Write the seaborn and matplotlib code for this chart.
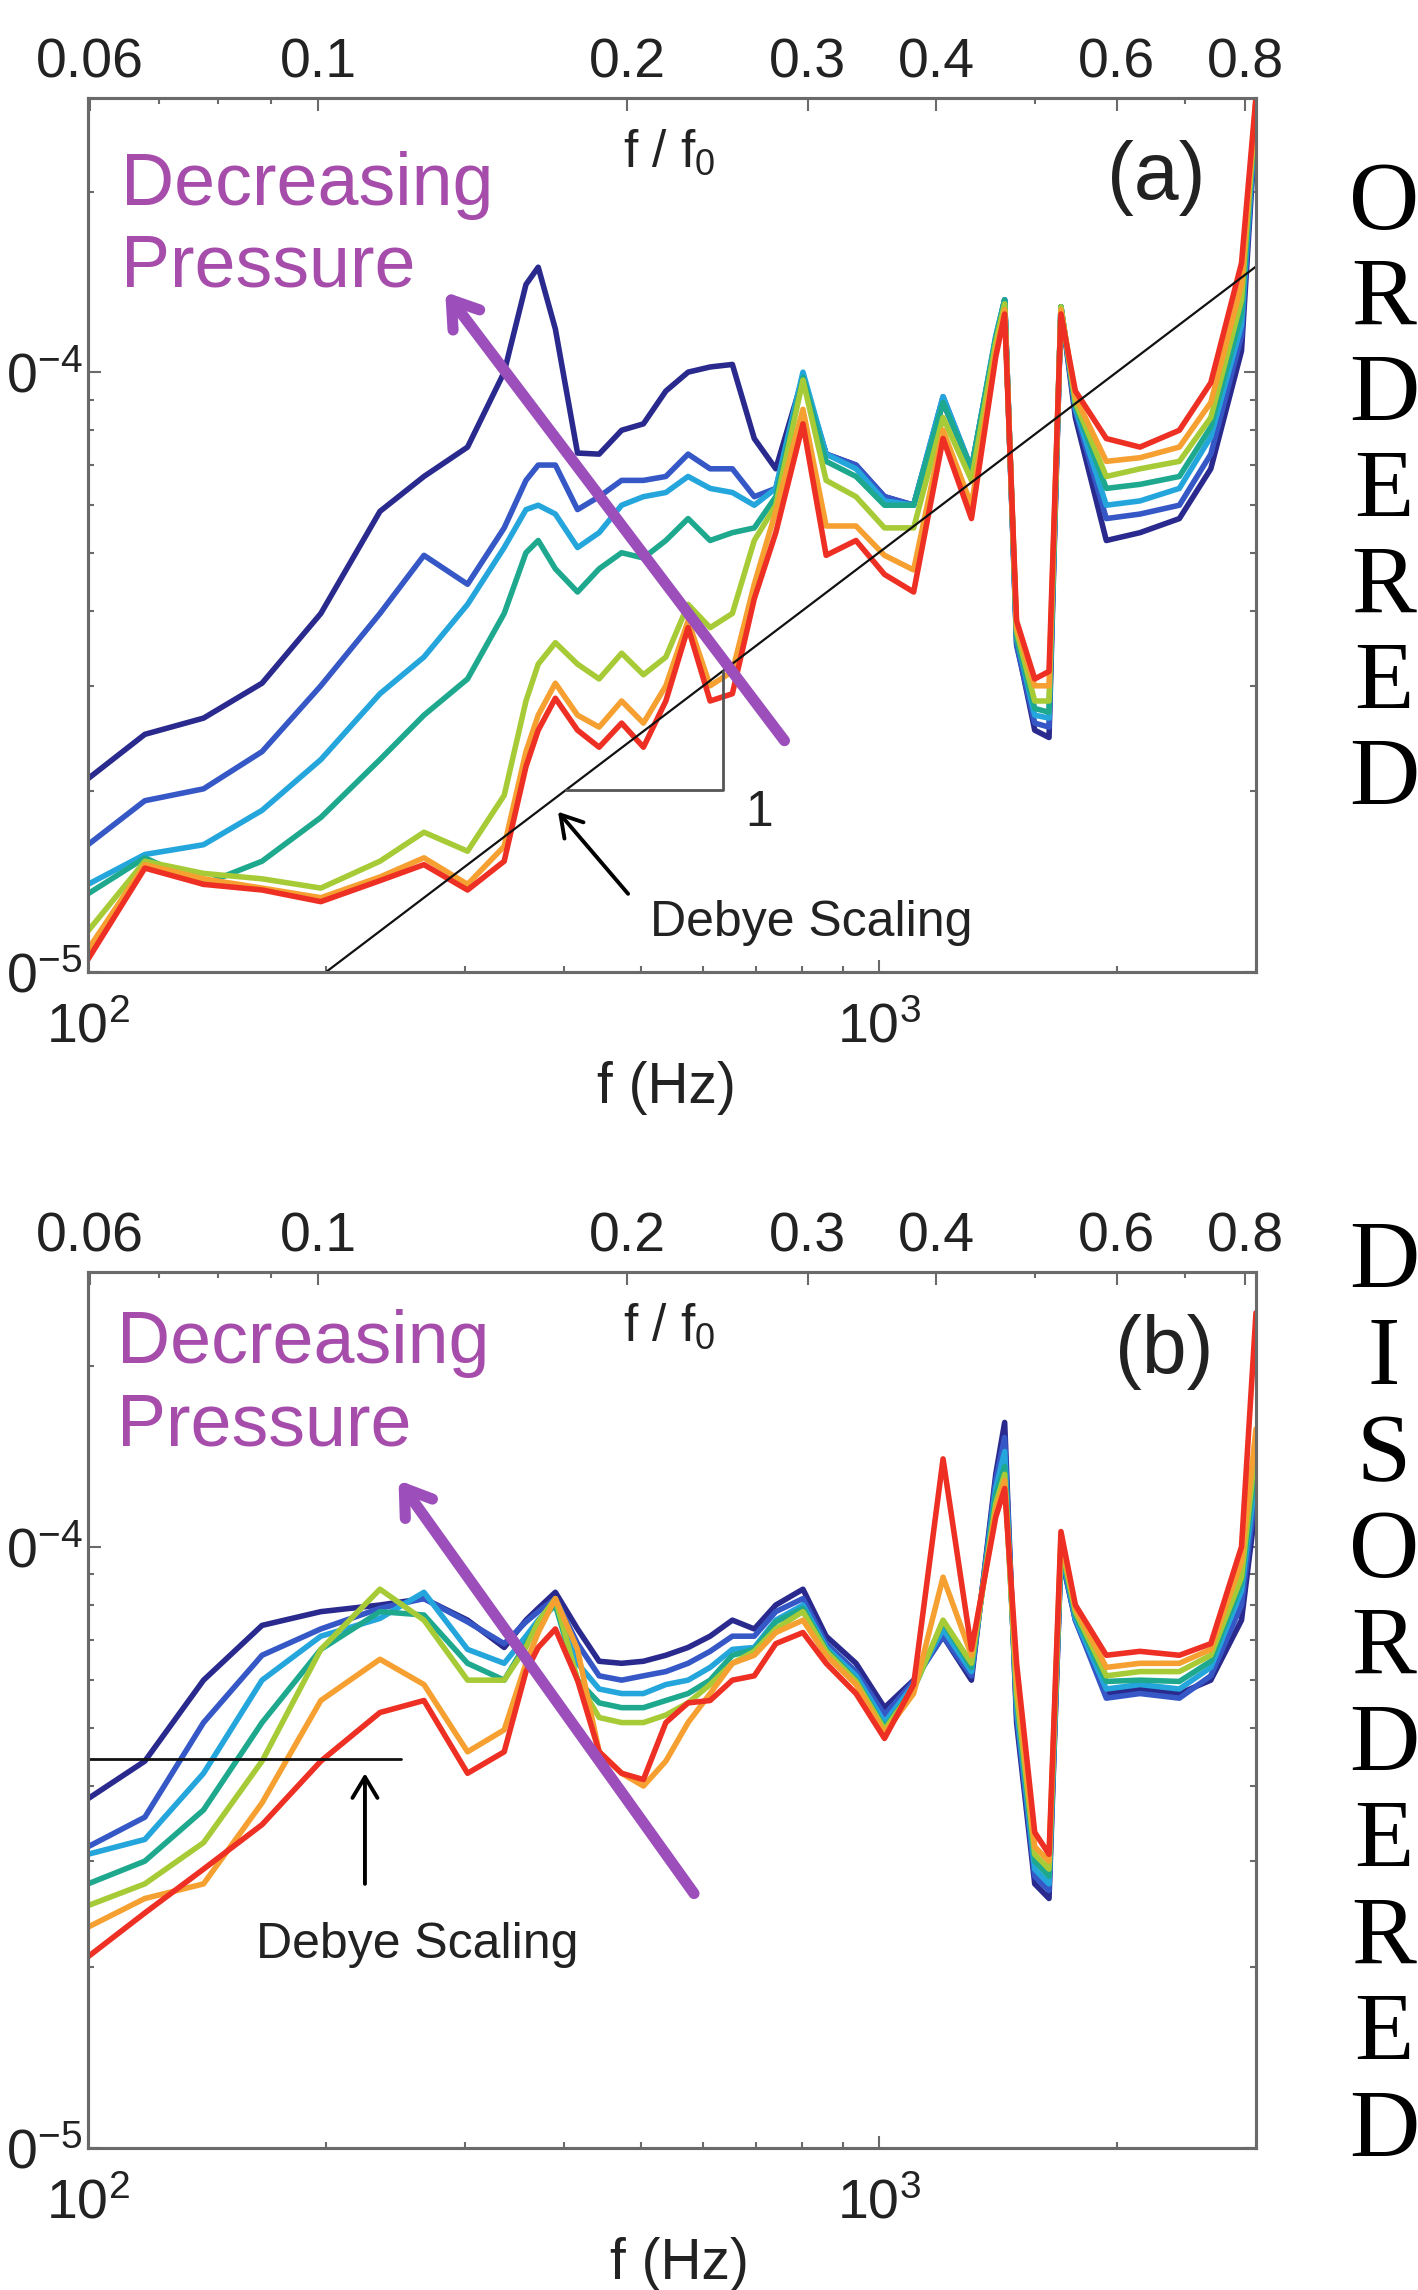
import numpy as np
import pandas as pd
import matplotlib
matplotlib.use("Agg")
import matplotlib.pyplot as plt
from matplotlib.ticker import FixedLocator, NullFormatter
import seaborn as sns

# ---------------- data (spectra in units of 1e-5) ----------------
freq_hz = [100, 118, 140, 166, 197, 234, 266, 302, 336, 358, 371, 390, 416, 443,
           473, 504, 538, 574, 612, 653, 696, 741, 802, 858, 936, 1017, 1107, 1206,
           1310, 1406, 1443, 1494, 1575, 1642, 1700, 1773, 1940, 2140, 2400, 2630,
           2876, 3000]

curve_names = ["navy", "blue", "lightblue", "teal", "yellowgreen", "orange", "red"]
curve_colors = ["#2a2a8e", "#3558c6", "#24a6dc", "#1ea98f", "#a7cb36", "#f5a031", "#ee2f23"]

ordered_navy = [2.10, 2.49, 2.65, 3.03, 3.96, 5.86, 6.7, 7.5, 10.0, 14.0, 14.96, 11.8, 7.33, 7.3,
                8.0, 8.2, 9.3, 10.0, 10.2, 10.3, 7.75, 6.9, 9.8, 7.3, 7.0, 6.2, 6.0, 8.9,
                6.9, 11.2, 13.2, 3.54, 2.53, 2.46, 12.85, 8.4, 5.24, 5.4, 5.7, 6.9, 10.85, 26.6]
ordered_blue = [1.63, 1.93, 2.02, 2.33, 3.0, 3.96, 4.95, 4.43, 5.5, 6.6, 7.0, 7.0, 5.9, 6.2,
                6.6, 6.6, 6.7, 7.3, 6.9, 6.9, 6.2, 6.4, 9.8, 7.3, 7.0, 6.2, 6.0, 9.1,
                6.9, 11.4, 13.2, 3.5, 2.60, 2.56, 12.85, 8.6, 5.7, 5.8, 6.0, 7.3, 11.5, 26.9]
ordered_lightblue = [1.40, 1.57, 1.63, 1.86, 2.26, 2.91, 3.35, 4.1, 5.1, 5.9, 6.0, 5.8, 5.1, 5.4,
                     6.0, 6.2, 6.3, 6.7, 6.4, 6.3, 6.0, 6.4, 10.0, 7.3, 6.9, 6.1, 6.0, 9.1,
                     6.9, 11.5, 13.2, 3.6, 2.68, 2.65, 12.85, 8.7, 6.0, 6.1, 6.4, 7.8, 12.0, 27.4]
ordered_teal = [1.35, 1.55, 1.40, 1.53, 1.81, 2.26, 2.68, 3.08, 3.96, 5.0, 5.24, 4.7, 4.3, 4.7,
                5.0, 4.9, 5.24, 5.7, 5.24, 5.4, 5.5, 6.2, 9.8, 7.1, 6.7, 6.0, 6.0, 8.9,
                6.9, 11.4, 13.2, 3.6, 2.75, 2.71, 12.85, 8.8, 6.4, 6.5, 6.7, 8.1, 12.5, 27.9]
ordered_yellowgreen = [1.17, 1.53, 1.46, 1.43, 1.38, 1.53, 1.71, 1.59, 1.97, 2.83, 3.26, 3.54, 3.26, 3.08,
                       3.4, 3.13, 3.35, 4.1, 3.75, 3.96, 5.24, 6.0, 9.7, 6.6, 6.2, 5.5, 5.5, 8.4,
                       6.6, 11.2, 13.0, 3.7, 2.83, 2.83, 12.85, 8.9, 6.7, 6.9, 7.1, 8.4, 13.2, 28.2]
ordered_orange = [1.09, 1.51, 1.43, 1.38, 1.33, 1.44, 1.55, 1.40, 1.62, 2.33, 2.68, 3.03, 2.68, 2.56,
                  2.83, 2.60, 3.0, 3.85, 3.0, 3.17, 4.43, 5.86, 8.67, 5.54, 5.54, 4.95, 4.68, 8.0,
                  6.0, 10.85, 12.7, 3.75, 3.0, 3.0, 12.7, 9.1, 7.1, 7.2, 7.5, 8.9, 14.0, 28.5]
ordered_red = [1.05, 1.49, 1.40, 1.37, 1.31, 1.42, 1.51, 1.37, 1.53, 2.20, 2.53, 2.86, 2.53, 2.37,
               2.60, 2.37, 2.83, 3.75, 2.83, 2.91, 4.19, 5.4, 8.2, 4.95, 5.24, 4.6, 4.3, 7.75,
               5.7, 10.6, 12.5, 3.85, 3.08, 3.17, 12.5, 9.3, 7.75, 7.5, 8.0, 9.6, 15.2, 28.8]

disordered_navy = [3.81, 4.4, 6.0, 7.4, 7.8, 8.0, 8.2, 7.55, 6.8, 7.55, 7.9, 8.4, 7.3, 6.45,
                   6.4, 6.45, 6.6, 6.8, 7.1, 7.55, 7.3, 8.0, 8.5, 7.1, 6.4, 5.4, 6.0, 7.1,
                   6.0, 13.2, 16.1, 5.1, 2.75, 2.60, 9.7, 7.55, 5.7, 5.8, 5.7, 6.0, 7.55, 11.8]
disordered_blue = [3.17, 3.55, 5.1, 6.6, 7.3, 7.9, 8.2, 7.5, 6.9, 7.5, 7.8, 8.2, 6.9, 6.1,
                   6.0, 6.1, 6.2, 6.4, 6.7, 7.1, 7.1, 7.8, 8.2, 6.9, 6.2, 5.25, 5.97, 7.1,
                   6.1, 12.9, 15.2, 5.25, 2.83, 2.68, 9.7, 7.55, 5.6, 5.7, 5.6, 6.1, 8.0, 12.5]
disordered_lightblue = [3.08, 3.26, 4.2, 6.0, 7.1, 7.6, 8.4, 6.75, 6.4, 7.1, 7.55, 8.1, 6.4, 5.8,
                        5.7, 5.7, 5.9, 6.0, 6.3, 6.75, 6.8, 7.55, 8.0, 6.8, 6.1, 5.1, 5.9, 7.3,
                        6.2, 12.5, 14.4, 5.4, 2.91, 2.75, 9.9, 7.6, 5.8, 5.9, 5.8, 6.3, 8.45, 13.2]
disordered_teal = [2.75, 3.0, 3.65, 5.1, 6.75, 7.8, 7.7, 6.4, 6.0, 6.9, 7.5, 8.0, 6.0, 5.5,
                   5.4, 5.4, 5.55, 5.7, 6.0, 6.6, 6.75, 7.5, 7.9, 6.75, 6.0, 5.0, 5.8, 7.5,
                   6.3, 12.2, 13.6, 5.55, 3.0, 2.83, 10.0, 7.7, 5.97, 6.0, 5.97, 6.45, 8.7, 14.0]
disordered_yellowgreen = [2.53, 2.75, 3.22, 4.4, 6.75, 8.5, 7.55, 6.0, 6.0, 6.8, 7.5, 8.2, 6.0, 5.2,
                          5.1, 5.1, 5.25, 5.5, 5.9, 6.4, 6.7, 7.3, 7.8, 6.7, 5.97, 4.96, 5.8, 7.55,
                          6.4, 11.8, 13.2, 5.7, 3.08, 2.91, 10.1, 7.8, 6.1, 6.2, 6.2, 6.6, 8.9, 14.8]
disordered_orange = [2.33, 2.60, 2.75, 3.75, 5.55, 6.5, 5.9, 4.56, 4.96, 6.4, 7.2, 8.2, 6.75, 4.56,
                     4.2, 4.0, 4.4, 5.1, 5.7, 6.4, 6.6, 7.2, 7.55, 6.6, 5.9, 4.9, 5.7, 8.9,
                     6.6, 11.5, 12.9, 6.0, 3.17, 3.0, 10.3, 7.9, 6.3, 6.4, 6.4, 6.75, 9.45, 15.7]
disordered_red = [2.08, 2.46, 2.91, 3.45, 4.4, 5.3, 5.55, 4.2, 4.56, 6.2, 6.8, 7.3, 6.0, 4.56,
                  4.2, 4.1, 5.1, 5.5, 5.55, 6.0, 6.1, 6.9, 7.2, 6.4, 5.7, 4.8, 5.9, 14.0,
                  6.75, 11.2, 12.5, 6.4, 3.35, 3.08, 10.6, 8.0, 6.6, 6.7, 6.6, 6.9, 10.0, 24.5]

ordered_series = [ordered_navy, ordered_blue, ordered_lightblue, ordered_teal,
                  ordered_yellowgreen, ordered_orange, ordered_red]
disordered_series = [disordered_navy, disordered_blue, disordered_lightblue, disordered_teal,
                     disordered_yellowgreen, disordered_orange, disordered_red]
UNIT = 1e-5

# Debye reference lines
debye_a_f = [200, 3000]
debye_a_S = [1.0e-5, 1.5e-4]
slope_tri_f = [402, 636, 636]
slope_tri_S = [2.01e-5, 2.01e-5, 3.18e-5]
debye_b_f = [100, 249]
debye_b_S = [4.44e-5, 4.44e-5]

# axis tick labels
top_ticks = [0.06, 0.1, 0.2, 0.3, 0.4, 0.6, 0.8]
top_tick_labels = ["0.06", "0.1", "0.2", "0.3", "0.4", "0.6", "0.8"]
top_minor = [0.07, 0.08, 0.09, 0.5, 0.7]
bottom_ticks = [100, 1000]
bottom_tick_labels = [r"$\mathregular{10^{2}}$", r"$\mathregular{10^{3}}$"]
left_ticks = [1e-5, 1e-4]
left_tick_labels = [r"$\mathregular{0^{-5}}$", r"$\mathregular{0^{-4}}$"]

# ---------------- style ----------------
sns.set_theme(style="ticks")
plt.rcParams["font.family"] = ["Liberation Sans", "DejaVu Sans"]
plt.rcParams["mathtext.fontset"] = "custom"
plt.rcParams["mathtext.rm"] = "Liberation Sans"
plt.rcParams["mathtext.it"] = "Liberation Sans"

W, H = 1418, 2290
fig = plt.figure(figsize=(W / 100, H / 100), dpi=100)
fig.patch.set_facecolor("white")


def fx(px):
    return px / W


def fy(py):
    return 1 - py / H


FRAME = "#6a6a6a"
TXT = "#222222"
PURPLE_TXT = "#a64dab"
PURPLE_ARROW = "#9c4fbb"


def make_panel(series, top, bottom):
    ax = fig.add_axes([fx(88), fy(bottom), (1256 - 88) / W, (bottom - top) / H])
    rows = []
    for name, vals in zip(curve_names, series):
        for f, v in zip(freq_hz, vals):
            rows.append((f, v * UNIT, name))
    df = pd.DataFrame(rows, columns=["f", "S", "curve"])
    sns.lineplot(data=df, x="f", y="S", hue="curve", hue_order=curve_names,
                 palette=curve_colors, estimator=None, linewidth=4.0,
                 legend=False, ax=ax)
    for ln in ax.get_lines():
        ln.set_solid_joinstyle("round")
    ax.set_xscale("log")
    ax.set_yscale("log")
    ax.set_xlim(100, 3000)
    ax.set_ylim(1e-5, 10 ** -3.543)
    ax.set_xlabel("")
    ax.set_ylabel("")
    ax.set_xticks(bottom_ticks)
    ax.set_xticklabels(bottom_tick_labels)
    ax.set_yticks(left_ticks)
    ax.set_yticklabels(left_tick_labels)
    ax.xaxis.set_minor_formatter(NullFormatter())
    ax.yaxis.set_minor_formatter(NullFormatter())
    ax.tick_params(which="both", direction="in", top=False, right=True,
                   color=FRAME, labelcolor=TXT, labelsize=40, width=1.5)
    ax.tick_params(which="major", length=9)
    ax.tick_params(which="minor", length=4)
    ax.tick_params(axis="x", which="major", pad=22)
    ax.tick_params(axis="y", which="major", pad=4)
    for sp in ax.spines.values():
        sp.set_color(FRAME)
        sp.set_linewidth(2.2)

    tw = ax.twiny()
    tw.set_xscale("log")
    tw.set_xlim(0.0597, 0.82)
    tw.xaxis.set_major_locator(FixedLocator(top_ticks))
    tw.set_xticklabels(top_tick_labels)
    tw.xaxis.set_minor_locator(FixedLocator(top_minor))
    tw.xaxis.set_minor_formatter(NullFormatter())
    tw.tick_params(which="both", direction="in", color=FRAME, labelcolor=TXT,
                   labelsize=40, width=1.5)
    tw.tick_params(which="major", length=9, pad=6)
    tw.tick_params(which="minor", length=4)
    for sp in tw.spines.values():
        sp.set_color(FRAME)
        sp.set_linewidth(2.2)
    return ax


# ---------------- panel (a) ----------------
ax_a = make_panel(ordered_series, 98, 972)
ax_a.plot(debye_a_f, debye_a_S, color="#111111", lw=1.6, zorder=5)
ax_a.plot(slope_tri_f, slope_tri_S, color="#555555", lw=2.0, zorder=5)
ax_a.annotate("", xy=(283, 13.6e-5), xytext=(760, 2.43e-5),
              arrowprops=dict(arrowstyle="->,head_length=0.45,head_width=0.3",
                              color=PURPLE_ARROW, lw=8, mutation_scale=40,
                              shrinkA=0, shrinkB=0), zorder=6)
ax_a.annotate("", xy=(393, 1.85e-5), xytext=(482, 1.35e-5),
              arrowprops=dict(arrowstyle="->,head_length=0.5,head_width=0.3",
                              color="black", lw=2.8, mutation_scale=30,
                              shrinkA=0, shrinkB=0), zorder=6)

# ---------------- panel (b) ----------------
ax_b = make_panel(disordered_series, 1272, 2148)
ax_b.plot(debye_b_f, debye_b_S, color="#111111", lw=2.0, zorder=5)
ax_b.annotate("", xy=(247, 12.9e-5), xytext=(584, 2.65e-5),
              arrowprops=dict(arrowstyle="->,head_length=0.45,head_width=0.3",
                              color=PURPLE_ARROW, lw=8, mutation_scale=40,
                              shrinkA=0, shrinkB=0), zorder=6)
ax_b.annotate("", xy=(224, 4.2e-5), xytext=(224, 2.75e-5),
              arrowprops=dict(arrowstyle="->,head_length=0.5,head_width=0.3",
                              color="black", lw=2.8, mutation_scale=30,
                              shrinkA=0, shrinkB=0), zorder=6)

# ---------------- texts ----------------
for (dy, tag) in [(0, "(a)"), (1174, "(b)")]:
    fig.text(fx(121 - (4 if dy else 0)), fy(185 + dy - (15 if dy else 0)), "Decreasing",
             color=PURPLE_TXT, fontsize=53, ha="left", va="center")
    fig.text(fx(121 - (4 if dy else 0)), fy(267 + dy - (15 if dy else 0)), "Pressure",
             color=PURPLE_TXT, fontsize=53, ha="left", va="center")
    fig.text(fx(669), fy(153 + dy), r"f / f$_\mathregular{0}$", color=TXT,
             fontsize=37, ha="center", va="center")
    fig.text(fx(1156 + (8 if dy else 0)), fy(178 + dy), tag, color=TXT,
             fontsize=58, ha="center", va="center")

fig.text(fx(650), fy(923), "Debye Scaling", color=TXT, fontsize=36, ha="left", va="center")
fig.text(fx(759), fy(813), "1", color=TXT, fontsize=36, ha="center", va="center")
fig.text(fx(256), fy(1945), "Debye Scaling", color=TXT, fontsize=36, ha="left", va="center")

fig.text(fx(666), fy(1088), "f (Hz)", color=TXT, fontsize=41, ha="center", va="center")
fig.text(fx(679), fy(2264), "f (Hz)", color=TXT, fontsize=41, ha="center", va="center")

# side labels (serif letters stacked)
ordered_word = "ORDERED"
disordered_word = "DISORDERED"
for i, ch in enumerate(ordered_word):
    fig.text(fx(1384), fy(197 + 96 * i + 32), ch, family=["Liberation Serif", "DejaVu Serif"],
             fontsize=70, ha="center", va="baseline", color="black")
for i, ch in enumerate(disordered_word):
    fig.text(fx(1384), fy(1256 + 96.5 * i + 32), ch, family=["Liberation Serif", "DejaVu Serif"],
             fontsize=70, ha="center", va="baseline", color="black")

fig.savefig("out.png", dpi=100, facecolor="white")
